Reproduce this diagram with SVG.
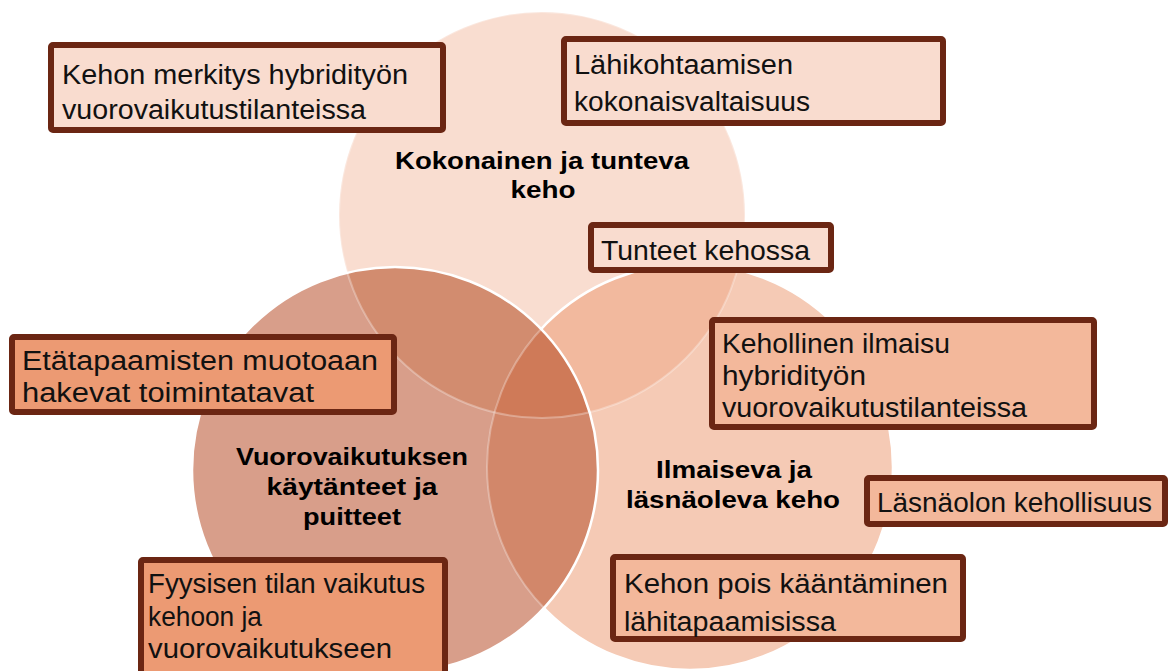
<svg xmlns="http://www.w3.org/2000/svg" width="1170" height="671" viewBox="0 0 1170 671">
<style>
.box{stroke:#6B2613;stroke-width:6;}
.light{fill:#F9DCCF;}
.orange{fill:#EC9A73;}
.salmon{fill:#F3B89B;}
.t{font-family:"Liberation Sans",Arial,sans-serif;font-size:27px;fill:#111;}
.b{font-family:"Liberation Sans",Arial,sans-serif;font-size:23px;font-weight:bold;fill:#000;text-anchor:middle;}
</style>
<defs>
<clipPath id="cT"><circle cx="542" cy="215" r="203"/></clipPath>
<clipPath id="cR"><circle cx="690" cy="467" r="203"/></clipPath>
<mask id="notL"><rect x="0" y="0" width="1170" height="671" fill="#fff"/><circle cx="395" cy="470" r="203" fill="#000"/></mask>
<clipPath id="cL"><circle cx="395" cy="470" r="203"/></clipPath>
</defs>
<rect x="0" y="0" width="1170" height="671" fill="#fff"/>
<g id="venn">
<circle cx="542" cy="215" r="203" fill="#F9DDD0"/>
<circle cx="690" cy="467" r="203" fill="#F5CAB5"/>
<circle cx="395" cy="470" r="203" fill="#D89E8A"/>
<g clip-path="url(#cT)">
<circle cx="690" cy="467" r="203" fill="#F2B99E"/>
<circle cx="395" cy="470" r="203" fill="#D28C6F"/>
</g>
<g clip-path="url(#cR)">
<circle cx="395" cy="470" r="203" fill="#D2876A"/>
<g clip-path="url(#cT)"><circle cx="395" cy="470" r="203" fill="#CF7A58"/></g>
</g>
<circle cx="542" cy="215" r="203" fill="none" stroke="#fff" stroke-opacity="0.3" stroke-width="2"/>
<g clip-path="url(#cL)"><circle cx="690" cy="467" r="203" fill="none" stroke="#fff" stroke-opacity="0.3" stroke-width="2"/></g>
<circle cx="690" cy="467" r="203" fill="none" stroke="#fff" stroke-width="2.5" mask="url(#notL)"/>
<circle cx="395" cy="470" r="203" fill="none" stroke="#fff" stroke-width="2.5"/>
</g>
<g id="labels">
<text class="b" x="542" y="169" textLength="294" lengthAdjust="spacingAndGlyphs">Kokonainen ja tunteva</text>
<text class="b" x="543" y="198" textLength="65" lengthAdjust="spacingAndGlyphs">keho</text>
<text class="b" x="352" y="465" textLength="232" lengthAdjust="spacingAndGlyphs">Vuorovaikutuksen</text>
<text class="b" x="352" y="495" textLength="171" lengthAdjust="spacingAndGlyphs">käytänteet ja</text>
<text class="b" x="352" y="525" textLength="98" lengthAdjust="spacingAndGlyphs">puitteet</text>
<text class="b" x="734" y="478" textLength="156" lengthAdjust="spacingAndGlyphs">Ilmaiseva ja</text>
<text class="b" x="733" y="508" textLength="214" lengthAdjust="spacingAndGlyphs">läsnäoleva keho</text>
</g>
<g id="box1">
<rect class="box light" x="51" y="45" width="392" height="85" rx="2"/>
<text class="t" x="62" y="84" textLength="346" lengthAdjust="spacingAndGlyphs">Kehon merkitys hybridityön</text>
<text class="t" x="62" y="119" textLength="304" lengthAdjust="spacingAndGlyphs">vuorovaikutustilanteissa</text>
</g>
<g id="box2">
<rect class="box light" x="564" y="39" width="379" height="84" rx="2"/>
<text class="t" x="574" y="74" textLength="219" lengthAdjust="spacingAndGlyphs">Lähikohtaamisen</text>
<text class="t" x="574" y="111" textLength="236" lengthAdjust="spacingAndGlyphs">kokonaisvaltaisuus</text>
</g>
<g id="box3">
<rect class="box light" x="591" y="225" width="240" height="45" rx="2"/>
<text class="t" x="601" y="260" textLength="209" lengthAdjust="spacingAndGlyphs">Tunteet kehossa</text>
</g>
<g id="box4">
<rect class="box orange" x="12" y="337" width="382" height="75" rx="2"/>
<text class="t" x="22" y="370" textLength="356" lengthAdjust="spacingAndGlyphs">Etätapaamisten muotoaan</text>
<text class="t" x="22" y="402" textLength="292" lengthAdjust="spacingAndGlyphs">hakevat toimintatavat</text>
</g>
<g id="box5">
<rect class="box salmon" x="712" y="320" width="382" height="107" rx="2"/>
<text class="t" x="722" y="353" textLength="228" lengthAdjust="spacingAndGlyphs">Kehollinen ilmaisu</text>
<text class="t" x="722" y="385" textLength="144" lengthAdjust="spacingAndGlyphs">hybridityön</text>
<text class="t" x="722" y="417" textLength="305" lengthAdjust="spacingAndGlyphs">vuorovaikutustilanteissa</text>
</g>
<g id="box6">
<rect class="box salmon" x="867" y="478" width="298" height="46" rx="2"/>
<text class="t" x="877" y="512" textLength="275" lengthAdjust="spacingAndGlyphs">Läsnäolon kehollisuus</text>
</g>
<g id="box7">
<rect class="box salmon" x="613" y="557" width="350" height="82" rx="2"/>
<text class="t" x="624" y="593" textLength="324" lengthAdjust="spacingAndGlyphs">Kehon pois kääntäminen</text>
<text class="t" x="624" y="631" textLength="212" lengthAdjust="spacingAndGlyphs">lähitapaamisissa</text>
</g>
<g id="box8">
<rect class="box orange" x="141" y="560" width="304" height="118" rx="2"/>
<text class="t" x="148" y="593" textLength="277" lengthAdjust="spacingAndGlyphs">Fyysisen tilan vaikutus</text>
<text class="t" x="148" y="626" textLength="114" lengthAdjust="spacingAndGlyphs">kehoon ja</text>
<text class="t" x="148" y="658" textLength="244" lengthAdjust="spacingAndGlyphs">vuorovaikutukseen</text>
</g>
<g id="connectors"></g>
</svg>
